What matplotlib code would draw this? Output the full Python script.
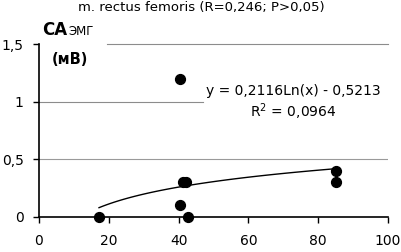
import numpy as np
import matplotlib
matplotlib.use("Agg")
import matplotlib.pyplot as plt

# datos
x_pts = [17.2, 40.5, 40.5, 41.4, 42.0, 42.8, 85.0, 85.0]
y_pts = [0.0, 1.2, 0.1, 0.3, 0.3, 0.0, 0.4, 0.3]
coef_a = 0.2116
coef_b = -0.5213
y_ticks = [0, 0.5, 1, 1.5]
y_tick_labels = ["0", "0,5", "1", "1,5"]
x_ticks = [0, 20, 40, 60, 80, 100]

fig = plt.figure(figsize=(4.02, 2.52), dpi=100)
ax = fig.add_axes([0.097, 0.139, 0.868, 0.686])

# lineas de grilla (cortadas donde van los textos)
ax.axhline(0.5, color="#9a9a9a", lw=0.8, zorder=0)
ax.axhline(1.0, xmax=0.47, color="#8c8c8c", lw=0.8, zorder=0)
ax.axhline(1.5, xmin=0.195, color="#8c8c8c", lw=0.8, zorder=0, clip_on=False)

# tendencia logaritmica
xt = np.linspace(min(x_pts), max(x_pts), 100)
yt = coef_a * np.log(xt) + coef_b
ax.plot(xt, yt, color="black", lw=1.0, zorder=2)

ax.scatter(x_pts, y_pts, s=50, color="black", zorder=3, clip_on=False)

ax.set_xlim(0, 100)
ax.set_ylim(0, 1.5)
ax.set_xticks(x_ticks)
ax.set_xticklabels([str(v) for v in x_ticks])
ax.set_yticks(y_ticks)
ax.set_yticklabels(y_tick_labels)
ax.tick_params(axis="both", direction="out", length=4, width=1, labelsize=10, colors="black")
ax.tick_params(axis="x", pad=8)
ax.tick_params(axis="y", pad=7)
for s in ["top", "right"]:
    ax.spines[s].set_visible(False)
ax.spines["left"].set_linewidth(1.2)
ax.spines["bottom"].set_linewidth(1.2)

# titulo
fig.text(0.5, 0.995, "m. rectus femoris (R=0,246; P>0,05)", ha="center", va="top", fontsize=9.5)

# etiqueta eje y
fig.text(0.105, 0.861, "CA", ha="left", va="baseline", fontsize=12, fontweight="bold")
fig.text(0.169, 0.861, "ЭМГ", ha="left", va="baseline", fontsize=8.5)
fig.text(0.128, 0.745, "(мВ)", ha="left", va="baseline", fontsize=10.5, fontweight="bold")

# ecuacion
ax.text(73, 1.09, "y = 0,2116Ln(x) - 0,5213", ha="center", va="center", fontsize=10)
ax.text(73, 0.91, "R$^2$ = 0,0964", ha="center", va="center", fontsize=10)

fig.savefig("out.png", dpi=100)
